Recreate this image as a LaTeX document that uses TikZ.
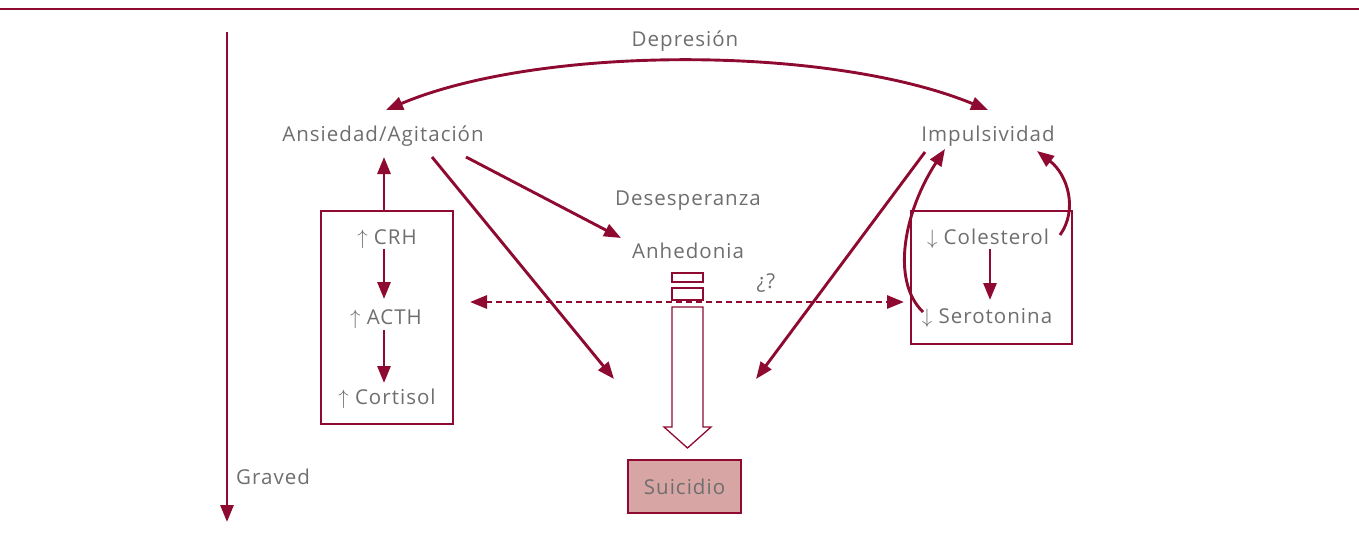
\documentclass[tikz,border=0pt]{standalone}
\usepackage{fontspec}
\setmainfont{Open Sans}[LetterSpace=5]
\usetikzlibrary{arrows.meta}
\definecolor{dred}{HTML}{8E0A30}
\definecolor{tgray}{HTML}{6E6E6E}
\definecolor{sfill}{HTML}{D7A6A4}
\tikzset{
  lbl/.style={text=tgray,font=\fontsize{20.5}{22}\selectfont,inner sep=0pt,anchor=center,text height=15pt,text depth=4pt},
  conn/.style={draw=dred,line width=2.9pt,-{Triangle[length=17pt,width=13pt]}},
  dconn/.style={conn,{Triangle[length=17pt,width=13pt]}-{Triangle[length=17pt,width=13pt]}},
  boxx/.style={draw=dred,line width=2.5pt},
}
\begin{document}
\begin{tikzpicture}[x=1pt,y=-1pt]
\useasboundingbox (0,0) rectangle (1359,551);
\draw[dred,line width=2.8pt] (0,9) -- (1359,9);
% severity axis
\coordinate (gtop) at (227,32);
\coordinate (gbot) at (227,522);
\draw[conn] (gtop) -- (gbot);
\node[lbl,anchor=west] (graved) at (236,479) {Graved};
% main labels
\node[lbl] (dep) at (685,41) {Depresión};
\node[lbl] (ans) at (383,136) {Ansiedad/Agitación};
\node[lbl] (imp) at (988,136) {Impulsividad};
\node[lbl] (des) at (688,200) {Desesperanza};
\node[lbl] (anh) at (688,253) {Anhedonia};
\node[lbl] (q) at (766,283) {¿?};
% left box
\node[boxx,minimum width=132pt,minimum height=213pt,inner sep=0pt] (lbox) at (387,317.5) {};
\node[lbl] (crh) at (387,239) {$\uparrow$ CRH};
\node[lbl] (acth) at (386,319) {$\uparrow$ ACTH};
\node[lbl] (cort) at (387,399) {$\uparrow$ Cortisol};
% right box
\node[boxx,minimum width=161pt,minimum height=133pt,inner sep=0pt] (rbox) at (991.5,277.5) {};
\node[lbl] (col) at (988,239) {$\downarrow$ Colesterol};
\node[lbl] (ser) at (987,318) {$\downarrow$ Serotonina};
% suicidio
\node[draw=dred,line width=2.8pt,fill=sfill,minimum width=113pt,minimum height=53pt,inner sep=0pt,text=tgray,font=\fontsize{20.5}{22}\selectfont] (sui) at (684.5,486.5) {Suicidio};
% depression arc
\coordinate (arcL) at (386,110);
\coordinate (arcR) at (988,110);
\draw[dconn] (arcL) .. controls (540,45) and (830,45) .. (arcR);
% HPA arrows
\coordinate (lboxtop) at (384,211);
\coordinate (ansbot) at (384,157);
\draw[conn] (lboxtop) -- (ansbot);
\coordinate (c1) at (384,249);
\coordinate (c2) at (384,299);
\draw[conn] (c1) -- (c2);
\coordinate (c3) at (384,330);
\coordinate (c4) at (384,383);
\draw[conn] (c3) -- (c4);
% right box internal
\coordinate (r1) at (990,249);
\coordinate (r2) at (990,300);
\draw[conn] (r1) -- (r2);
% to suicide
\coordinate (a1) at (432,157);
\coordinate (s1) at (614,379);
\draw[conn] (a1) -- (s1);
\coordinate (a2) at (466,157);
\coordinate (an1) at (621,238);
\draw[conn] (a2) -- (an1);
\coordinate (i1) at (925,152);
\coordinate (s2) at (756,379);
\draw[conn] (i1) -- (s2);
% dashed
\coordinate (dl) at (470,302);
\coordinate (dr) at (904,302);
\draw[dconn,dash pattern=on 6pt off 4pt] (dl) -- (dr);
% curved feedbacks
\coordinate (sl) at (923,312);
\coordinate (ib) at (945,149);
\draw[conn] (sl) .. controls (890,280) and (905,210) .. (ib);
\coordinate (cr) at (1060,235);
\coordinate (ib2) at (1037,151);
\draw[conn] (cr) .. controls (1078,210) and (1068,175) .. (ib2);
% hollow arrow
\draw[dred,line width=1.3pt,fill=white] (672,273) rectangle (703,282);
\draw[dred,line width=1.3pt,fill=white] (672,288) rectangle (703,300);
\draw[dred,line width=1.3pt,fill=white,line join=miter] (672,307) -- (703,307) -- (703,427) -- (711,427) -- (687.5,448) -- (664,427) -- (672,427) -- cycle;
\end{tikzpicture}
\end{document}
